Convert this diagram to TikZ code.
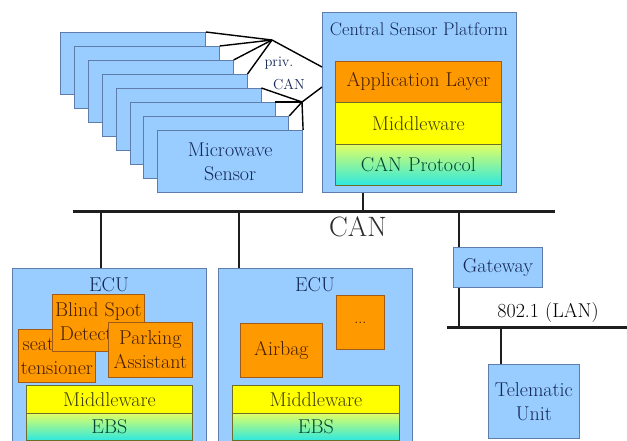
\documentclass[tikz,border=0pt]{standalone}
\usepackage{fontspec}
\usetikzlibrary{calc}
\definecolor{bfill}{RGB}{153,204,255}
\definecolor{bdraw}{RGB}{95,125,170}
\definecolor{btext}{RGB}{20,40,85}
\definecolor{ofill}{RGB}{255,153,0}
\definecolor{odraw}{RGB}{160,90,25}
\definecolor{otext}{RGB}{70,30,0}
\definecolor{yfill}{RGB}{255,255,0}
\definecolor{ydraw}{RGB}{110,110,40}
\definecolor{ytext}{RGB}{60,60,0}
\definecolor{gtop}{RGB}{225,255,100}
\definecolor{gbot}{RGB}{45,232,225}
\definecolor{gtext}{RGB}{0,70,50}
\definecolor{busc}{RGB}{30,30,30}
\definecolor{bigc}{RGB}{45,45,45}
\newcommand\fmainsz{\fontsize{20}{24}\selectfont}
\newcommand\ftitlesz{\fontsize{18.3}{20}\selectfont}
\newcommand\fprivsz{\fontsize{14.5}{18}\selectfont}
\newcommand\fbigsz{\fontsize{28}{30}\selectfont}
\begin{document}
\begin{tikzpicture}[x=1pt,y=-1pt,
  boxbase/.style={inner sep=0pt, anchor=north west, align=center, line width=0.8pt, font=\fmainsz},
  bbox/.style={boxbase, draw=bdraw, fill=bfill, text=btext},
  obox/.style={boxbase, draw=odraw, fill=ofill, text=otext},
  ybox/.style={boxbase, draw=ydraw, fill=yfill, text=ytext},
  gbox/.style={boxbase, draw=ydraw, top color=gtop, bottom color=gbot, text=gtext},
  lbl/.style={inner sep=0pt, anchor=center, align=center, font=\fmainsz},
  wire/.style={line width=1.4pt, black},
  bus/.style={line width=3pt, busc},
  drop/.style={line width=2pt, busc}]
\useasboundingbox (0,0) rectangle (627,441);
\clip (0,0) rectangle (627,441);
\fill[white] (0,0) rectangle (627,441);

% sensor stack
\foreach \i in {0,...,6}
  \node[bbox, minimum width=145pt, minimum height=62pt] (s\i) at ({60+13.9*\i},{32+14*\i}) {};
\node[bbox, minimum width=145pt, minimum height=62pt] (s7) at (157.3,130) {Microwave\\Sensor};

% central sensor platform
\node[bbox, minimum width=194pt, minimum height=180pt] (csp) at (322,12) {};
\node[lbl, font=\ftitlesz, text=btext] (csptitle) at (419,29) {Central Sensor Platform};
\node[obox, minimum width=166pt, minimum height=41pt] (app) at (335,61) {Application Layer};
\node[ybox, minimum width=166pt, minimum height=42pt] (mw0) at (335,102) {Middleware};
\node[gbox, minimum width=166pt, minimum height=41pt] (canp) at (335,144) {CAN Protocol};

% private CAN wires
\coordinate (U) at (272,40);
\coordinate (L) at (302,102);
\coordinate (cU) at (322,67);
\coordinate (cL) at (322,87);
\foreach \i in {0,...,3} \draw[wire] (s\i.north east) -- (U);
\foreach \i in {4,...,7} \draw[wire] (s\i.north east) -- (L);
\draw[wire] (U) -- (cU);
\draw[wire] (L) -- (cL);
\node[lbl, font=\fprivsz, text=btext] (privt) at (279,63) {priv.};
\node[lbl, font=\fprivsz, text=btext] (privc) at (289,84) {CAN};

% CAN bus
\coordinate (busL) at (73,212);
\coordinate (busR) at (555,212);
\draw[bus] (busL) -- (busR);
\node[lbl, font=\fbigsz, text=bigc] (canlbl) at (358,227) {CAN};

% ECU 1
\node[bbox, minimum width=194pt, minimum height=190pt] (ecu1) at (12,268) {};
\node[lbl, text=btext] (ecu1t) at (109,285) {ECU};
\node[obox, minimum width=77pt, minimum height=53pt,
  path picture={\node[lbl, text=otext] (seatt) at (path picture bounding box.center) {seat-belt\\tensioner};}] (seat) at (18,329) {};
\node[obox, minimum width=92pt, minimum height=57pt,
  path picture={\node[lbl, text=otext, yshift=1pt] (blindt) at (path picture bounding box.center) {Blind Spot\\Detection};}] (blind) at (52,294) {};
\node[obox, minimum width=84pt, minimum height=55pt] (park) at (108,322) {Parking\\Assistant};
\node[ybox, minimum width=166pt, minimum height=28pt] (mw1) at (26,385) {Middleware};
\node[gbox, minimum width=166pt, minimum height=27pt] (ebs1) at (26,413) {EBS};

% ECU 2
\node[bbox, minimum width=194pt, minimum height=190pt] (ecu2) at (218,268) {};
\node[lbl, text=btext] (ecu2t) at (315,285) {ECU};
\node[obox, minimum width=82pt, minimum height=54pt] (airbag) at (240,323) {Airbag};
\node[obox, minimum width=48pt, minimum height=54pt, font=\fprivsz] (dots) at (336,295) {...};
\node[ybox, minimum width=167pt, minimum height=28pt] (mw2) at (232,385) {Middleware};
\node[gbox, minimum width=167pt, minimum height=27pt] (ebs2) at (232,413) {EBS};

% gateway and LAN
\node[bbox, minimum width=89pt, minimum height=40pt] (gw) at (453,247) {Gateway};
\coordinate (lanL) at (447,327);
\coordinate (lanR) at (627,327);
\draw[bus] (lanL) -- (lanR);
\node[lbl, text=black] (lanlbl) at (548,313) {802.1 (LAN)};
\node[bbox, minimum width=91pt, minimum height=74pt] (tel) at (488,364) {Telematic\\Unit};

% drops
\coordinate (d0) at (363,212);
\coordinate (d1) at (101,212);
\coordinate (d2) at (239,212);
\coordinate (d3) at (459,212);
\coordinate (d4) at (459,327);
\coordinate (d5) at (501,327);
\draw[drop] (d0 |- csp.south) -- (d0);
\draw[drop] (d1) -- (d1 |- ecu1.north);
\draw[drop] (d2) -- (d2 |- ecu2.north);
\draw[drop] (d3) -- (d3 |- gw.north);
\draw[drop] (d4 |- gw.south) -- (d4);
\draw[drop] (d5) -- (d5 |- tel.north);
\end{tikzpicture}
\end{document}
